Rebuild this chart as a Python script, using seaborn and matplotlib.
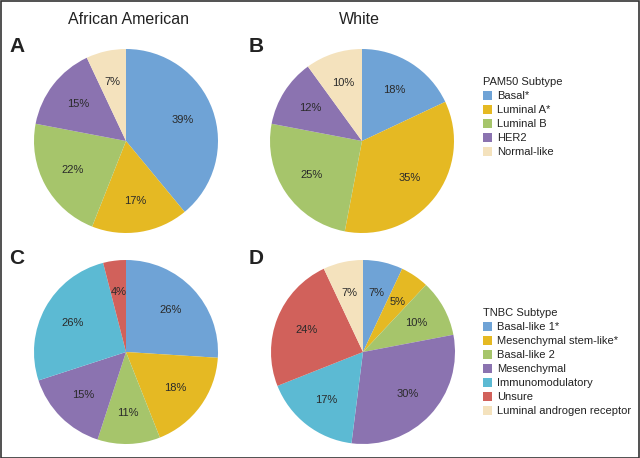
import matplotlib
matplotlib.use("Agg")
import matplotlib.pyplot as plt
import seaborn as sns
from matplotlib.patches import Patch, Rectangle

sns.set_theme(style="white")
plt.rcParams['font.family'] = ['Liberation Sans', 'DejaVu Sans']

# Data
pam50_labels = ["Basal*", "Luminal A*", "Luminal B", "HER2", "Normal-like"]
pam50_aa = [39, 17, 22, 15, 7]
pam50_white = [18, 35, 25, 12, 10]

tnbc_labels = ["Basal-like 1*", "Mesenchymal stem-like*", "Basal-like 2", "Mesenchymal",
               "Immunomodulatory", "Unsure", "Luminal androgen receptor"]
tnbc_aa = [26, 18, 11, 15, 26, 4, 0]
tnbc_white = [7, 5, 10, 30, 17, 24, 7]

col_titles = ["African American", "White"]
panel_letters = ["A", "B", "C", "D"]

pam50_colors = ["#6fa3d6", "#e5b923", "#a6c56b", "#8b73b0", "#f4e2bd"]
tnbc_colors = ["#6fa3d6", "#e5b923", "#a6c56b", "#8b73b0", "#5cbad3", "#d1615b", "#f4e2bd"]

W, H = 640, 458
fig = plt.figure(figsize=(W / 100, H / 100), dpi=100)
fig.patch.set_facecolor("white")

def add_pie(cx, cy, r, values, colors):
    ax = fig.add_axes([(cx - r) / W, (H - cy - r) / H, 2 * r / W, 2 * r / H])
    def fmt(p):
        return f"{p:.0f}%" if p > 0.5 else ""
    ax.pie(values, colors=colors, startangle=90, counterclock=False,
           autopct=fmt, pctdistance=0.66, radius=1,
           wedgeprops=dict(linewidth=0),
           textprops=dict(fontsize=8, color="#2a2a2a"))
    ax.set_xlim(-1.0, 1.0)
    ax.set_ylim(-1.0, 1.0)
    ax.set_aspect("equal")
    ax.axis("off")
    return ax

r = 92
add_pie(126, 141, r, pam50_aa, pam50_colors)
add_pie(362, 141, r, pam50_white, pam50_colors)
add_pie(126, 352, r, tnbc_aa, tnbc_colors)
add_pie(363, 352, r, tnbc_white, tnbc_colors)

# Column titles
fig.text(128 / W, 1 - 19 / H, col_titles[0], ha="center", va="center", fontsize=11.5, color="#222222")
fig.text(359 / W, 1 - 19 / H, col_titles[1], ha="center", va="center", fontsize=11.5, color="#222222")

# Panel letters
for (x, y), letter in zip([(17, 47), (256, 47), (17, 258), (256, 258)], panel_letters):
    fig.text(x / W, 1 - y / H, letter, ha="center", va="center", fontsize=15,
             fontweight="bold", color="#222222")

def make_legend(labels, colors, title, top):
    handles = [Patch(facecolor=c, edgecolor="none", label=l) for c, l in zip(colors, labels)]
    leg = fig.legend(handles=handles, title=title, loc="upper left",
                     bbox_to_anchor=(483 / W, 1 - top / H), frameon=False,
                     fontsize=8, title_fontsize=8, handlelength=0.85, handleheight=0.9,
                     handletextpad=0.45, labelspacing=0.32, borderpad=0, borderaxespad=0,
                     alignment="left")
    for t in leg.get_texts():
        t.set_color("#222222")
    leg.get_title().set_color("#222222")
    return leg

make_legend(pam50_labels, pam50_colors, "PAM50 Subtype", 77)
make_legend(tnbc_labels, tnbc_colors, "TNBC Subtype", 308)

# Figure border
fig.patches.append(Rectangle((0.001, 0.001), 0.997, 0.997, transform=fig.transFigure,
                             fill=False, edgecolor="#333333", linewidth=1.2))

fig.savefig("out.png", dpi=100)
